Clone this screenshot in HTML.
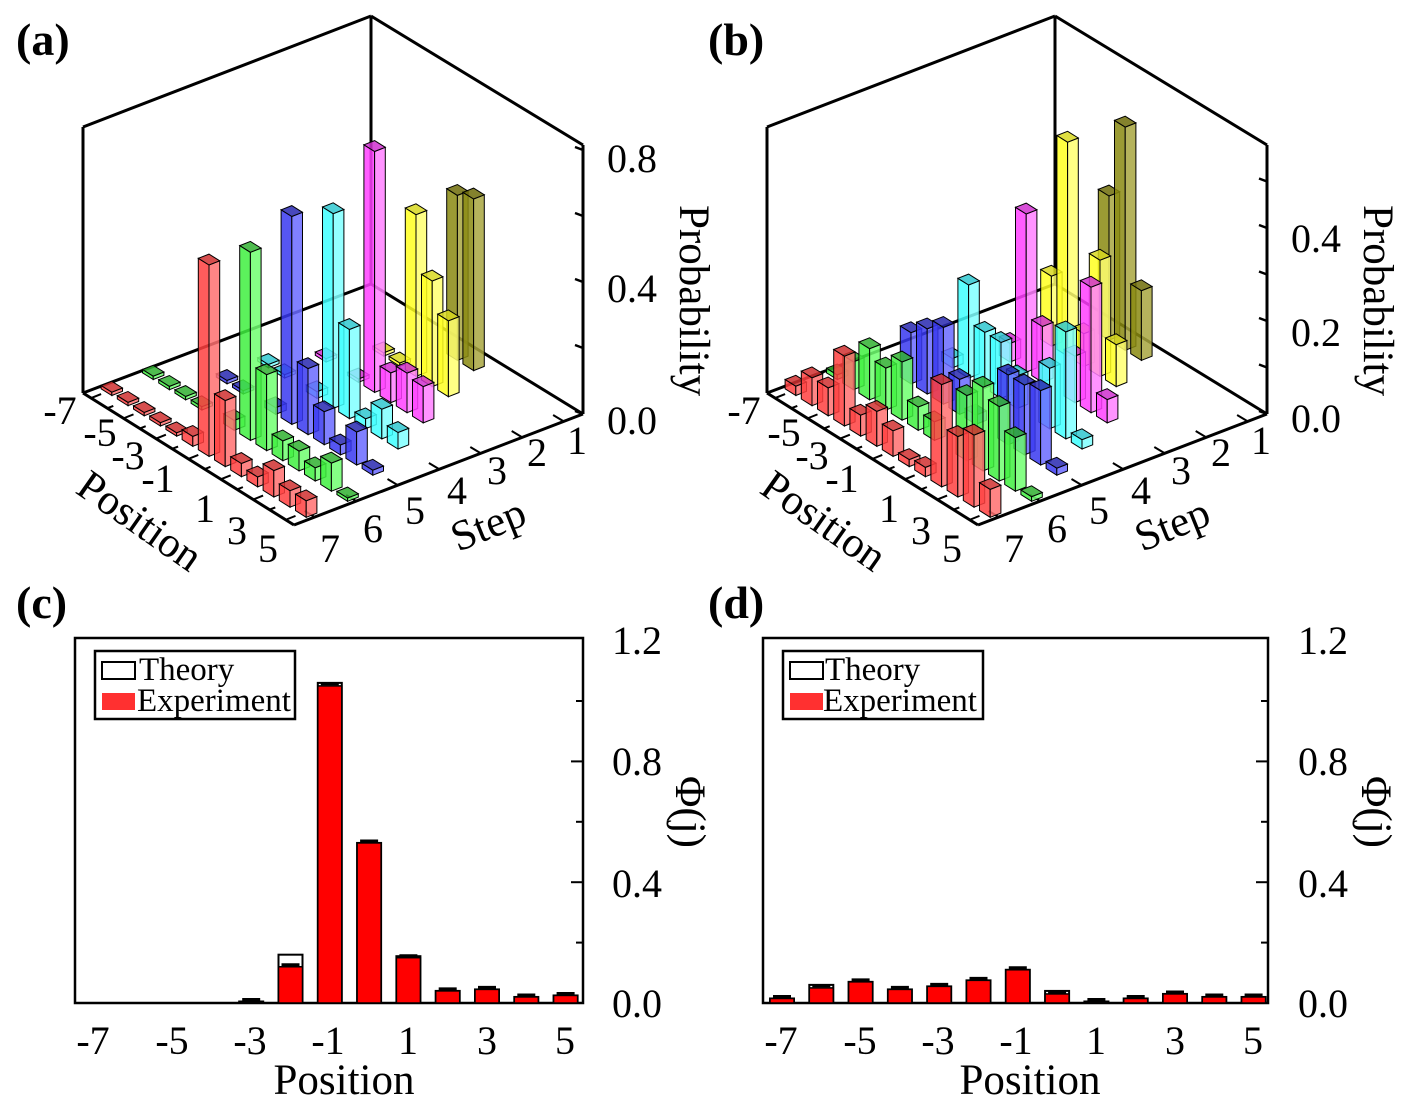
<!DOCTYPE html>
<html><head><meta charset="utf-8"><style>
body{margin:0;background:#fff;}
svg{display:block;font-family:"Liberation Serif",serif;}
</style></head><body>
<svg id="s" width="1418" height="1103" viewBox="0 0 1418 1103" xmlns="http://www.w3.org/2000/svg">
<g id="ga"></g><g id="gb"></g>
<g font-weight="bold" font-size="46">
<text x="16" y="55">(a)</text><text x="708" y="55">(b)</text>
<text x="16" y="618">(c)</text><text x="708" y="618">(d)</text>
</g>
<g font-size="40" text-anchor="middle">
<text x="60" y="424">-7</text><text x="100" y="446">-5</text><text x="128" y="469">-3</text><text x="158" y="492">-1</text>
<text x="205" y="522">1</text><text x="237" y="544">3</text><text x="268" y="562">5</text>
<text x="330" y="562">7</text><text x="373" y="542">6</text><text x="415" y="524">5</text><text x="457" y="504">4</text>
<text x="497" y="484">3</text><text x="537" y="466">2</text><text x="577" y="454">1</text>
<text x="632" y="172">0.8</text><text x="632" y="302">0.4</text><text x="632" y="434">0.0</text>
</g>
<g font-size="43">
<text x="0" y="0" transform="translate(74,492) rotate(35)">Position</text>
<text x="0" y="0" transform="translate(458,552) rotate(-22)">Step</text>
<text x="0" y="0" transform="translate(680,205) rotate(90)">Probability</text>
</g>
<g font-size="40" text-anchor="middle">
<text x="744" y="424">-7</text><text x="784" y="446">-5</text><text x="812" y="469">-3</text><text x="842" y="492">-1</text>
<text x="889" y="522">1</text><text x="921" y="544">3</text><text x="952" y="562">5</text>
<text x="1014" y="562">7</text><text x="1057" y="542">6</text><text x="1099" y="524">5</text><text x="1141" y="504">4</text>
<text x="1181" y="484">3</text><text x="1221" y="466">2</text><text x="1261" y="454">1</text>
<text x="1316" y="252">0.4</text><text x="1316" y="346">0.2</text><text x="1316" y="432">0.0</text>
</g>
<g font-size="43">
<text x="0" y="0" transform="translate(758,492) rotate(35)">Position</text>
<text x="0" y="0" transform="translate(1142,552) rotate(-22)">Step</text>
<text x="0" y="0" transform="translate(1364,205) rotate(90)">Probability</text>
</g>
<g id="gc"></g><g id="gd"></g>
<g font-size="33">
<text x="139" y="680">Theory</text><text x="137" y="711">Experiment</text>
<text x="825" y="680">Theory</text><text x="823" y="711">Experiment</text>
</g>
<g font-size="40" text-anchor="middle">
<text x="93" y="1054">-7</text><text x="172" y="1054">-5</text><text x="250" y="1054">-3</text><text x="328" y="1054">-1</text>
<text x="408" y="1054">1</text><text x="487" y="1054">3</text><text x="565" y="1054">5</text>
<text x="637" y="654">1.2</text><text x="637" y="775">0.8</text><text x="637" y="897">0.4</text><text x="637" y="1017">0.0</text>
<text x="781" y="1054">-7</text><text x="860" y="1054">-5</text><text x="938" y="1054">-3</text><text x="1016" y="1054">-1</text>
<text x="1096" y="1054">1</text><text x="1175" y="1054">3</text><text x="1253" y="1054">5</text>
<text x="1323" y="654">1.2</text><text x="1323" y="775">0.8</text><text x="1323" y="897">0.4</text><text x="1323" y="1017">0.0</text>
</g>
<g font-size="43" text-anchor="middle">
<text x="344" y="1094">Position</text><text x="1030" y="1094">Position</text>
<text x="0" y="0" transform="translate(676,812) rotate(90)">Φ(j)</text>
<text x="0" y="0" transform="translate(1362,812) rotate(90)">Φ(j)</text>
</g>
</svg>
<script>
var NS="http://www.w3.org/2000/svg";
function el(p,t,a){var e=document.createElementNS(NS,t);for(var k in a)e.setAttribute(k,a[k]);p.appendChild(e);return e;}
var cols=[null,
 ["#8a8a10","#a8a640","#6e6c08"],
 ["#ffff20","#ffff70","#d8d820"],
 ["#ff40ff","#ff80ff","#d030d0"],
 ["#40ffff","#80ffff","#30c8d0"],
 ["#3838f0","#6a6aff","#2828b0"],
 ["#40f040","#70ff70","#30b030"],
 ["#ff4040","#ff7070","#d03030"]];
function draw3d(g,dx,zs,data,zt){
 var O=[83+dx,393],P=[16.2,10.15],S=[41.4,-16];
 var L=function(pts){return pts.map(function(p){return p[0].toFixed(1)+","+p[1].toFixed(1)}).join(" ");};
 function line(a,b,w){el(g,"line",{x1:a[0]+dx,y1:a[1],x2:b[0]+dx,y2:b[1],stroke:"#000","stroke-width":w||3});}
 line([83,127],[371,16]);line([371,16],[583,145]);line([83,127],[83,393]);line([371,16],[371,284]);
 line([83,393],[371,284]);line([371,284],[583,414]);line([583,145],[583,414]);
 line([83,393],[294,525]);line([294,525],[583,414]);
 for(var i=0;i<13;i++){var x=83+(i+0.5)*16.2,y=393+(i+0.5)*10.15;line([x,y],[x+(i%2?6:10),y-(i%2?2.3:4)],2);}
 for(var k=0;k<7;k++){var x=294+(k+0.5)*41.4,y=525-(k+0.5)*16;line([x,y],[x-10,y-6],2);}
 zt.forEach(function(z){line([583,414-z],[575,414-z-3],2.5);});
 var bars=[];
 for(var n=1;n<=7;n++){var d=data[n];for(var i=0;i<13;i++){if(!d[i])continue;
  var B=[O[0]+(i+0.5)*P[0]+(7.5-n)*S[0],O[1]+(i+0.5)*P[1]+(7.5-n)*S[1]];bars.push([B,d[i]*zs,n]);}}
 bars.sort(function(a,b){return a[0][1]-b[0][1];});
 bars.forEach(function(b){var B=b[0],h=b[1],c=cols[b[2]];
  var a=0.33,bb=0.13,u=[a*P[0],a*P[1]],v=[bb*S[0],bb*S[1]];
  function pt(su,sv,z){return [B[0]+su*u[0]+sv*v[0],B[1]+su*u[1]+sv*v[1]-z];}
  var st={stroke:"#000","stroke-width":1,"fill-opacity":0.85};
  var f1=[pt(-1,-1,0),pt(1,-1,0),pt(1,-1,h),pt(-1,-1,h)];
  var f2=[pt(1,-1,0),pt(1,1,0),pt(1,1,h),pt(1,-1,h)];
  var tp=[pt(-1,-1,h),pt(1,-1,h),pt(1,1,h),pt(-1,1,h)];
  el(g,"polygon",Object.assign({points:L(f1),fill:c[0]},st));
  el(g,"polygon",Object.assign({points:L(f2),fill:c[1]},st));
  el(g,"polygon",Object.assign({points:L(tp),fill:c[2]},st));
 });
}
function arr(o){var a=[];for(var i=0;i<13;i++)a.push(o[i]||0);return a;}
var A={
7:[0.01,0.01,0.01,0.01,0.01,0.03,0.58,0.2,0.04,0.03,0.08,0.05,0.05],
6:[0.01,0.01,0.01,0.01,0,0.03,0.57,0.23,0.06,0.06,0.04,0.085,0.01],
5:[0,0,0.01,0.01,0,0.02,0.63,0.2,0.1,0.03,0.1,0.015,0],
4:[0,0,0.01,0.01,0,0.02,0.59,0.27,0.03,0.09,0.05,0,0],
3:[0,0,0,0.01,0,0.01,0.73,0.09,0.12,0.11,0,0,0],
2:arr({4:0.01,5:0.01,6:0.49,7:0.32,8:0.23}),
1:arr({6:0.5,7:0.52})};
var Bd={
7:[0.02,0.06,0.06,0.15,0.045,0.075,0.055,0.015,0.02,0.22,0.13,0.155,0.06],
6:[0.01,0.06,0.11,0.09,0.125,0.05,0.04,0,0.14,0.18,0.16,0.115,0.01],
5:arr({2:0.11,3:0.14,4:0.165,5:0.075,6:0.02,8:0.15,9:0.15,10:0.16,11:0.015}),
4:arr({2:0.02,3:0.2,4:0.12,5:0.12,6:0.07,8:0.13,9:0.23,10:0.02}),
3:arr({3:0.04,4:0.34,5:0.12,7:0.1,8:0.27,9:0.05}),
2:arr({3:0.15,4:0.46,5:0.07,6:0.25,7:0.09}),
1:arr({4:0.31,5:0.48,6:0.15})};
draw3d(document.getElementById("ga"),0,330,A,[0,66,132,198,264]);
draw3d(document.getElementById("gb"),684,465,Bd,[0,46.5,93,139.5,186,232.5]);
function draw2d(g,x0,x1,exp,th){
 var y0=638,y1=1003,sc=302;
 el(g,"rect",{x:x0,y:y0,width:x1-x0,height:y1-y0,fill:"none",stroke:"#000","stroke-width":2.5});
 for(var k=1;k<6;k++){var y=y1-k*0.2*sc;el(g,"line",{x1:x1,y1:y,x2:x1-(k%2?7:12),y2:y,stroke:"#000","stroke-width":2});}
 for(var j=-7;j<=5;j++){var cx=x0+19+(j+7)*39.3,i=j+7;
  var e=exp[i],t=th[i];
  if(t>0)el(g,"rect",{x:cx-12,y:y1-t*sc,width:24,height:t*sc,fill:"none",stroke:"#000","stroke-width":2});
  if(e>0){el(g,"rect",{x:cx-12,y:y1-e*sc,width:24,height:e*sc,fill:"#ff0000",stroke:"#000","stroke-width":1.5});
   var ey=y1-e*sc;el(g,"line",{x1:cx-9,y1:ey-2,x2:cx+9,y2:ey-2,stroke:"#000","stroke-width":3});}
 }
 el(g,"rect",{x:x0+20,y:651,width:200,height:68,fill:"#fff",stroke:"#000","stroke-width":2.5});
 el(g,"rect",{x:x0+27,y:662,width:33,height:17,fill:"none",stroke:"#000","stroke-width":2});
 el(g,"rect",{x:x0+27,y:693,width:33,height:17,fill:"#ff3030",stroke:"none"});
}
draw2d(document.getElementById("gc"),75,583,
 [0,0,0,0,0.005,0.12,1.05,0.53,0.15,0.04,0.045,0.02,0.025],
 [0,0,0,0,0.005,0.16,1.06,0.53,0.155,0.04,0.045,0.02,0.025]);
draw2d(document.getElementById("gd"),763,1268,
 [0.015,0.05,0.07,0.045,0.055,0.075,0.11,0.03,0.005,0.015,0.03,0.02,0.02],
 [0.015,0.06,0.07,0.045,0.055,0.075,0.11,0.04,0.005,0.015,0.03,0.02,0.02]);
</script>
</body></html>
